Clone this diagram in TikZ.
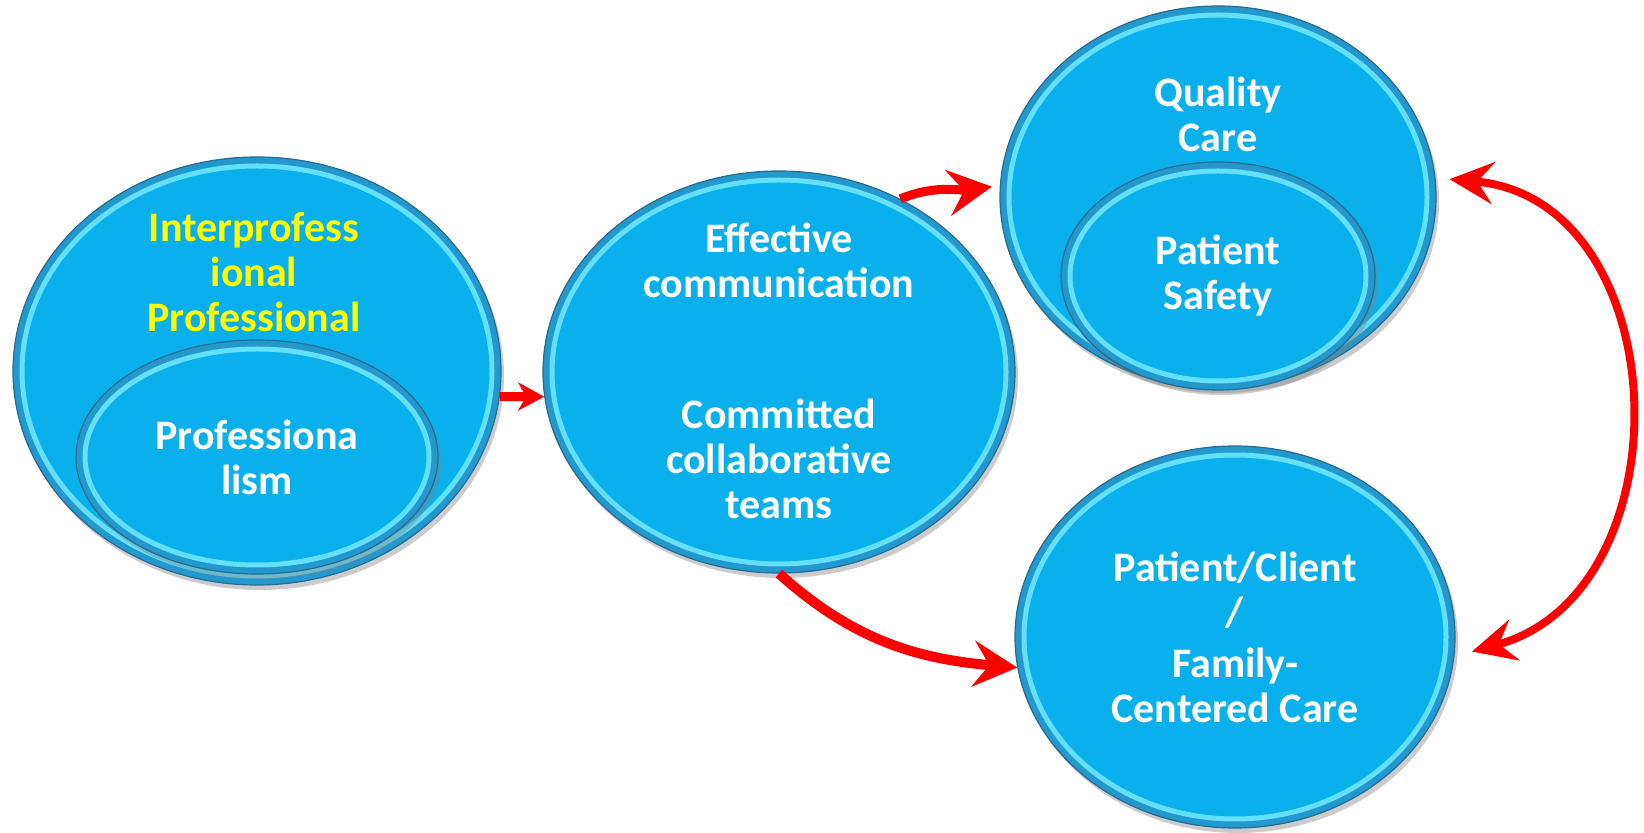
\documentclass[tikz,border=0pt]{standalone}
\usepackage{fontspec}
\setmainfont{Carlito}
\usetikzlibrary{shapes.geometric, shadows, arrows.meta, calc}

\definecolor{discblue}{RGB}{10,176,236}
\definecolor{discedge}{RGB}{36,108,148}
\definecolor{discdark}{RGB}{34,152,204}
\definecolor{discrim}{RGB}{100,224,255}
\definecolor{flowred}{RGB}{255,0,0}
\definecolor{hiyellow}{RGB}{255,255,0}

\begin{document}
\begin{tikzpicture}[x=0.5pt, y=0.5pt,
    disc/.style={ellipse, inner sep=0pt, fill=discblue, draw=discedge, line width=0.6pt,
      drop shadow={shadow xshift=1.5pt, shadow yshift=-2.5pt, opacity=0.4},
      path picture={
        \draw[discdark, line width=7pt] let \p1 = (path picture bounding box.north east),
          \p2 = (path picture bounding box.center) in
          (\p2) ellipse [x radius=\x1-\x2, y radius=\y1-\y2];
        \draw[discrim, line width=2.5pt] let \p1 = (path picture bounding box.north east),
          \p2 = (path picture bounding box.center) in
          (\p2) ellipse [x radius=\x1-\x2-4.5pt, y radius=\y1-\y2-4.5pt];
      },
      txt},
    txt/.style={font=\fontsize{21pt}{22.5pt}\selectfont\bfseries, text=white, align=center},
    flow/.style={draw=flowred, line width=5pt, -{Stealth[length=22pt, width=23pt, inset=8pt]}}]

  \useasboundingbox (0,0) rectangle (1644,-833);

  % interprofessional professionalism
  \node[disc, minimum width=244pt, minimum height=214pt] (ipp) at (257,-371) {};
  \node[txt, text=hiyellow] (ipptxt) at (254,-272) {Interprofess\\ional\\Professional};
  \node[disc, minimum width=181pt, minimum height=117pt] (prof) at (257,-457) {Professiona\\lism};

  % communication and teams
  \node[disc, minimum width=236pt, minimum height=201pt] (comm) at (779,-372) {};
  \node[txt] (commtxt) at (779,-260) {Effective\\communication};
  \node[txt] (teamtxt) at (779,-459) {Committed\\collaborative\\teams};

  % quality care
  \node[disc, minimum width=218pt, minimum height=191pt] (qcare) at (1218,-197) {};
  \node[txt] (qcaretxt) at (1218,-114) {Quality\\Care};
  \node[disc, minimum width=157pt, minimum height=114pt] (psafe) at (1218,-276) {Patient\\Safety};

  % patient centred care
  \node[disc, minimum width=220pt, minimum height=191pt] (pfcc) at (1235,-637)
    {Patient/Client\\/\\[3pt]Family-\\Centered Care};

  \draw[flow, line width=4.5pt, -{Stealth[length=13pt, width=14pt, inset=4pt]}] (ipp.-6) -- (comm.-174);
  \draw[flow, line width=4.5pt, shorten >=4pt] (comm.55) to[out=22, in=188] (qcare.177);
  \draw[flow] (comm.south) to[out=-42, in=175] (pfcc.188);
  \draw[flow, line width=4pt, {Stealth[length=22pt, width=21pt, inset=8pt]}-{Stealth[length=22pt, width=21pt, inset=8pt]},
    shorten <=7pt, shorten >=9pt] (qcare.5) to[out=-5, in=15, looseness=1.3] (pfcc.-5);
\end{tikzpicture}
\end{document}
